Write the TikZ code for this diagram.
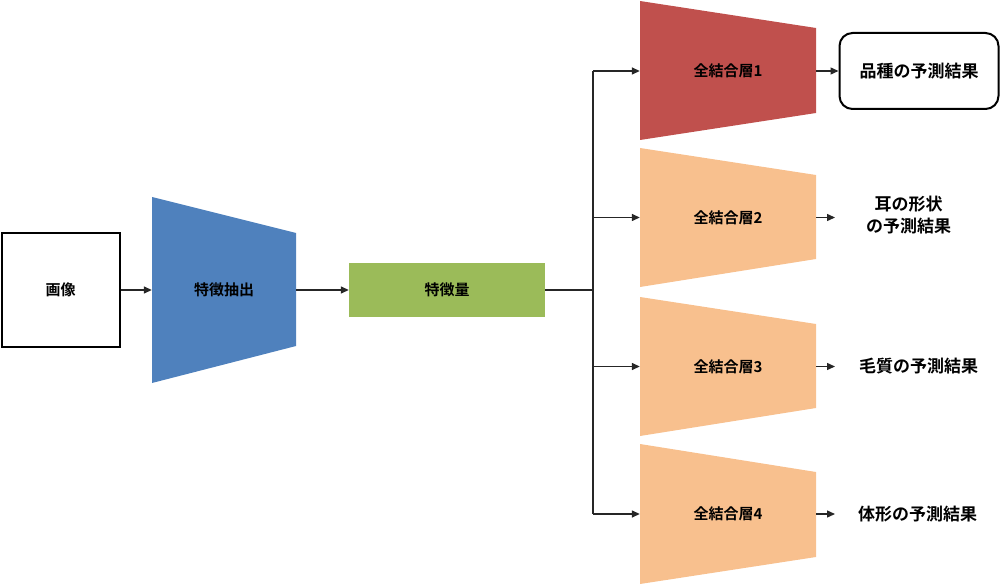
\documentclass[tikz,border=0pt]{standalone}
\usepackage{fontspec}
\newfontfamily\jp{Noto Sans CJK JP}[BoldFont={Noto Sans CJK JP Bold}]
\usetikzlibrary{arrows.meta}
\definecolor{cblue}{HTML}{4F81BD}
\definecolor{cgreen}{HTML}{9BBB59}
\definecolor{cred}{HTML}{C0504D}
\definecolor{corange}{HTML}{F8C08E}
\definecolor{cline}{HTML}{262626}
\tikzset{
  lbl/.style={font=\jp\bfseries\fontsize{15}{18}\selectfont, text=black, inner sep=0pt},
  outtxt/.style={font=\jp\bfseries\fontsize{17}{22}\selectfont, text=black, align=center, inner ysep=0pt},
  conn/.style={draw=cline, line width=1.4pt},
  arr/.style={conn, -{Triangle[length=8pt,width=7pt]}},
}
\begin{document}
\begin{tikzpicture}[x=1pt,y=-1pt]
\useasboundingbox (0,0) rectangle (1000,585);
% image box
\node[lbl, draw=black, line width=2pt, minimum width=118pt, minimum height=114pt, inner sep=0pt] (img) at (60.5,290) {画像};
% feature extractor trapezoid
\fill[cblue] (152,197) -- (296,233) -- (296,346) -- (152,383) -- cycle;
\node[lbl, minimum width=144pt, minimum height=40pt] (fe) at (224,290) {特徴抽出};
% feature vector
\node[lbl, fill=cgreen, minimum width=196pt, minimum height=54pt] (fv) at (447,290) {特徴量};
% fully connected layers
\fill[cred] (640,1) -- (816,28) -- (816,113) -- (640,140) -- cycle;
\node[lbl, minimum width=176pt, minimum height=40pt] (f1) at (728,71) {全結合層1};
\fill[corange] (640,148) -- (816,175) -- (816,259) -- (640,287) -- cycle;
\node[lbl, minimum width=176pt, minimum height=40pt] (f2) at (728,217.5) {全結合層2};
\fill[corange] (640,297) -- (816,324) -- (816,408) -- (640,436) -- cycle;
\node[lbl, minimum width=176pt, minimum height=40pt] (f3) at (728,366.5) {全結合層3};
\fill[corange] (640,444) -- (816,472) -- (816,557) -- (640,584) -- cycle;
\node[lbl, minimum width=176pt, minimum height=40pt] (f4) at (728,514) {全結合層4};
% outputs
\node[outtxt, draw=black, line width=2pt, rounded corners=13pt, minimum width=159pt, minimum height=76pt, inner sep=0pt] (o1) at (919,71) {品種の予測結果};
\node[outtxt, anchor=west, inner xsep=31pt] (o2) at (835,215) {耳の形状\\の予測結果};
\node[outtxt, anchor=west, inner xsep=24pt] (o3) at (835,366.5) {毛質の予測結果};
\node[outtxt, anchor=west, inner xsep=23pt] (o4) at (835,514) {体形の予測結果};
% connectors
\draw[arr] (img.east) -- (fe.west);
\draw[arr] (fe.east) -- (fv.west);
\coordinate (bt) at (593,71);
\coordinate (bb) at (593,514);
\draw[conn] (fv.east) -- (fv.east -| bt);
\draw[conn] (bt) -- (bb);
\draw[arr] (bt) -- (f1.west);
\draw[arr] (f2.west -| bt) -- (f2.west);
\draw[arr] (f3.west -| bt) -- (f3.west);
\draw[arr] (bb) -- (f4.west);
\draw[arr] (f1.east) -- (o1.west);
\draw[arr] (f2.east) -- (f2.east -| o2.west);
\draw[arr] (f3.east) -- (o3.west);
\draw[arr] (f4.east) -- (o4.west);
\end{tikzpicture}
\end{document}
